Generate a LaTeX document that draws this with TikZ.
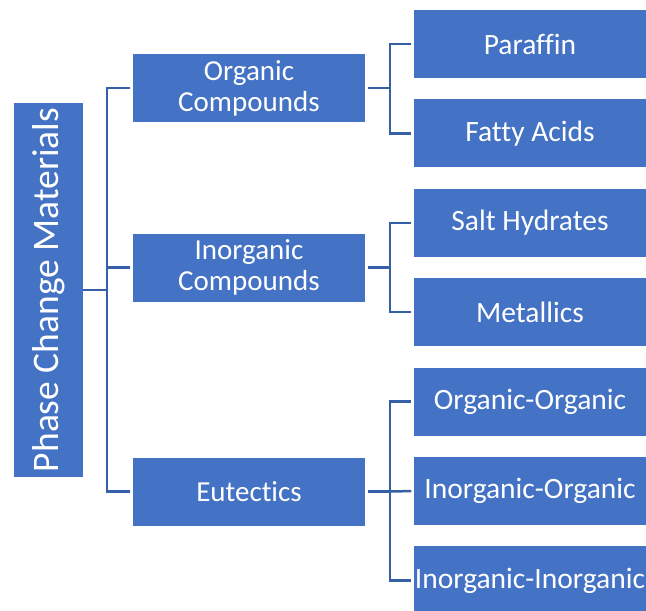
\documentclass[tikz,border=0pt]{standalone}
\usepackage{fontspec}
\setmainfont[Ligatures=NoCommon]{Carlito}
\usepackage{xcolor}
\usetikzlibrary{positioning}
\definecolor{boxblue}{HTML}{4472C4}
\definecolor{linkblue}{HTML}{3560A8}
\tikzset{
  rootbox/.style={
    fill=boxblue,
    rotate=90,
    minimum width=374pt,
    minimum height=69pt,
    inner sep=0pt,
    text=white,
    font=\fontsize{37.5}{44}\selectfont
  },
  groupbox/.style={
    fill=boxblue,
    minimum width=232pt,
    minimum height=68pt,
    inner sep=0pt,
    align=center,
    text=white,
    font=\fontsize{29}{31}\selectfont
  },
  leafbox/.style={
    fill=boxblue,
    minimum width=232pt,
    minimum height=68pt,
    inner sep=0pt,
    text=white,
    font=\fontsize{29.5}{35}\selectfont
  },
  link/.style={draw=linkblue, line width=2.5pt, shorten <=2.5pt}
}

\begin{document}
\begin{tikzpicture}[x=1pt, y=-1pt]
  \useasboundingbox (0,0) rectangle (646,611);
  \clip (0,0) rectangle (646,611);

  \node[rootbox] (pcm) at (48.5,290) {Phase Change Materials};

  \node[groupbox] (organic) at (249,88) {Organic\\Compounds};
  \node[groupbox] (inorganic) at (249,267.5) {Inorganic\\Compounds};
  \node[groupbox] (eutectic) at (249,491.5) {Eutectics};

  \node[leafbox] (paraffin) at (530,44) {Paraffin};
  \node[leafbox, below=21pt of paraffin] (fatty) {Fatty Acids};
  \node[leafbox, below=21pt of fatty] (salt) {Salt Hydrates};
  \node[leafbox, below=21pt of salt] (metal) {Metallics};
  \node[leafbox, below=21pt of metal] (orgorg) {Organic-Organic};
  \node[leafbox, below=21pt of orgorg] (inorgorg) {Inorganic-Organic};
  \node[leafbox, below=21pt of inorgorg] (inorginorg) {Inorganic-Inorganic};

  % root to groups
  \draw[link, shorten <=0pt] (pcm.south) -- ++(24,0) coordinate (rj);
  \draw[link] (organic.west) -| (rj);
  \draw[link] (eutectic.west) -| (rj);
  \draw[link] (inorganic.west) -- (rj |- inorganic);

  % groups to leaves
  \draw[link] (organic.east) -- ++(25,0) coordinate (oj);
  \draw[link] (paraffin.west) -| (oj);
  \draw[link] (fatty.west) -| (oj);

  \draw[link] (inorganic.east) -- ++(25,0) coordinate (ij);
  \draw[link] (salt.west) -| (ij);
  \draw[link] (metal.west) -| (ij);

  \draw[link] (eutectic.east) -- ++(25,0) coordinate (ej);
  \draw[link] (orgorg.west) -| (ej);
  \draw[link] (inorginorg.west) -| (ej);
  \draw[link] (inorgorg.west) -- (ej);
\end{tikzpicture}
\end{document}
